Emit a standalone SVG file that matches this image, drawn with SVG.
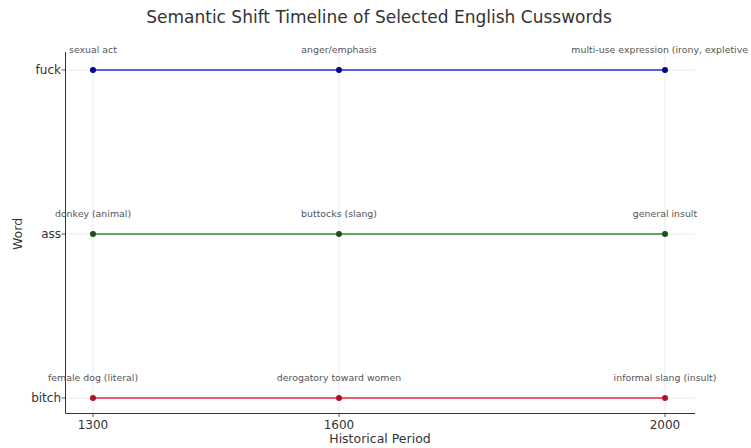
<svg xmlns="http://www.w3.org/2000/svg" width="751" height="448" viewBox="0 0 751 448">
<style>
text{font-family:"DejaVu Sans","Liberation Sans",sans-serif;}
.title{font-size:17px;fill:#333;text-anchor:middle;}
.ann{font-size:9.4px;fill:#555;text-anchor:middle;}
.ann.end{text-anchor:end;}
.tick{font-size:12px;fill:#333;}
.axl{font-size:12.5px;fill:#333;text-anchor:middle;}
.grid{stroke:#e4e4e4;stroke-width:0.8;}
.spine{stroke:#333;stroke-width:1;fill:none;}
.tk{stroke:#333;stroke-width:0.8;}
</style>
<rect width="751" height="448" fill="#fff"/>
<text class="title" x="379" y="23">Semantic Shift Timeline of Selected English Cusswords</text>
<g id="grid">
<line class="grid" x1="93" y1="52" x2="93" y2="413"/>
<line class="grid" x1="339" y1="52" x2="339" y2="413"/>
<line class="grid" x1="665" y1="52" x2="665" y2="413"/>
<line class="grid" x1="65" y1="70" x2="695" y2="70"/>
<line class="grid" x1="65" y1="234" x2="695" y2="234"/>
<line class="grid" x1="65" y1="398" x2="695" y2="398"/>
</g>
<g id="axes">
<path class="spine" d="M65.5,52 V413.5 H695"/>
<line class="tk" x1="61.5" y1="70" x2="65" y2="70"/>
<line class="tk" x1="61.5" y1="234" x2="65" y2="234"/>
<line class="tk" x1="61.5" y1="398" x2="65" y2="398"/>
<line class="tk" x1="93" y1="413.5" x2="93" y2="417"/>
<line class="tk" x1="339" y1="413.5" x2="339" y2="417"/>
<line class="tk" x1="665" y1="413.5" x2="665" y2="417"/>
<text class="tick" x="61" y="74" text-anchor="end">fuck</text>
<text class="tick" x="61" y="238" text-anchor="end">ass</text>
<text class="tick" x="61" y="402" text-anchor="end">bitch</text>
<text class="tick" x="93" y="429" text-anchor="middle">1300</text>
<text class="tick" x="339" y="429" text-anchor="middle">1600</text>
<text class="tick" x="665" y="429" text-anchor="middle">2000</text>
<text class="axl" x="380" y="443">Historical Period</text>
<text class="axl" transform="translate(22,234) rotate(-90)">Word</text>
</g>
<g id="connectors">
<line x1="93" y1="70" x2="665" y2="70" stroke="#2a2ae0" stroke-width="1.6"/>
<line x1="93" y1="234" x2="665" y2="234" stroke="#2e8b2e" stroke-width="1.6"/>
<line x1="93" y1="398" x2="665" y2="398" stroke="#e8283c" stroke-width="1.6"/>
</g>
<g id="fuck">
<circle cx="93" cy="70" r="3" fill="#00008b"/>
<circle cx="339" cy="70" r="3" fill="#00008b"/>
<circle cx="665" cy="70" r="3" fill="#00008b"/>
<text class="ann" x="93" y="53">sexual act</text>
<text class="ann" x="339" y="53">anger/emphasis</text>
<text class="ann end" x="748" y="53">multi-use expression (irony, expletive</text>
</g>
<g id="ass">
<circle cx="93" cy="234" r="3" fill="#1e4d1e"/>
<circle cx="339" cy="234" r="3" fill="#1e4d1e"/>
<circle cx="665" cy="234" r="3" fill="#1e4d1e"/>
<text class="ann" x="93" y="217">donkey (animal)</text>
<text class="ann" x="339" y="217">buttocks (slang)</text>
<text class="ann" x="665" y="217">general insult</text>
</g>
<g id="bitch">
<circle cx="93" cy="398" r="3" fill="#b0102a"/>
<circle cx="339" cy="398" r="3" fill="#b0102a"/>
<circle cx="665" cy="398" r="3" fill="#b0102a"/>
<text class="ann" x="93" y="381">female dog (literal)</text>
<text class="ann" x="339" y="381">derogatory toward women</text>
<text class="ann" x="665" y="381">informal slang (insult)</text>
</g>
</svg>
